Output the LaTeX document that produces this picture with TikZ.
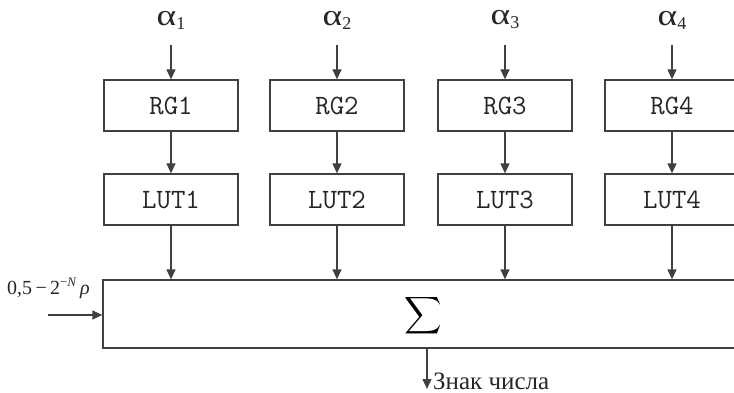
\documentclass[tikz,border=0pt]{standalone}
\usepackage{fontspec}
\setmainfont{Liberation Serif}
\usetikzlibrary{arrows.meta}
\begin{document}
\begin{tikzpicture}[x=1pt,y=-1pt,
  ln/.style={draw=black!75, line width=1.3pt},
  arr/.style={ln, -{Triangle[length=10pt,width=9pt]}},
  blk/.style={ln, rectangle, minimum width=134pt, minimum height=51pt, inner sep=0pt,
     font=\ttfamily\fontsize{28}{28}\selectfont, text=black!85},
  alab/.style={font=\fontsize{30}{30}\selectfont, inner sep=0pt, text=black!85}
]
\useasboundingbox (0,0) rectangle (734,393);
\clip (0,0) rectangle (734,393);
\foreach \i/\x in {1/171,2/337,3/505,4/672}{
  \node[alab] (a\i) at (\x,20) {\scalebox{1.25}[1]{α}\raisebox{-4pt}{\fontsize{18}{18}\selectfont\i}};
  \coordinate (t\i) at (\x,45);
  \node[blk] (rg\i) at (\x,105.5) {RG\i};
  \node[blk] (lut\i) at (\x,199.5) {LUT\i};
}
\node[ln, rectangle, minimum width=645pt, minimum height=68pt, inner sep=0pt] (sum) at (425.5,314) {};
\node[inner sep=0pt, scale=2.6] (sig) at (423,316) {$\displaystyle\sum$};
\foreach \i in {1,2,3,4}{
  \draw[arr] (t\i) -- (rg\i.north);
  \draw[arr] (rg\i) -- (lut\i);
  \draw[arr] (lut\i.south) -- (lut\i.south |- sum.north);
}
\node[anchor=west, inner sep=0pt, font=\fontsize{20}{20}\selectfont, text=black!85] (inlab) at (7,288) {0,5\,−\,2\raisebox{8pt}{\fontsize{13}{13}\selectfont−\textit{N}}\,\textit{ρ}};
\coordinate (in) at (48,315);
\draw[arr] (in) -- (in -| sum.west);
\coordinate (outc) at (427,389);
\draw[arr] (outc |- sum.south) -- (outc);
\node[anchor=base west, inner sep=0pt, font=\fontsize{25}{25}\selectfont, text=black!85] (outlab) at (433,389) {Знак числа};
\end{tikzpicture}
\end{document}
